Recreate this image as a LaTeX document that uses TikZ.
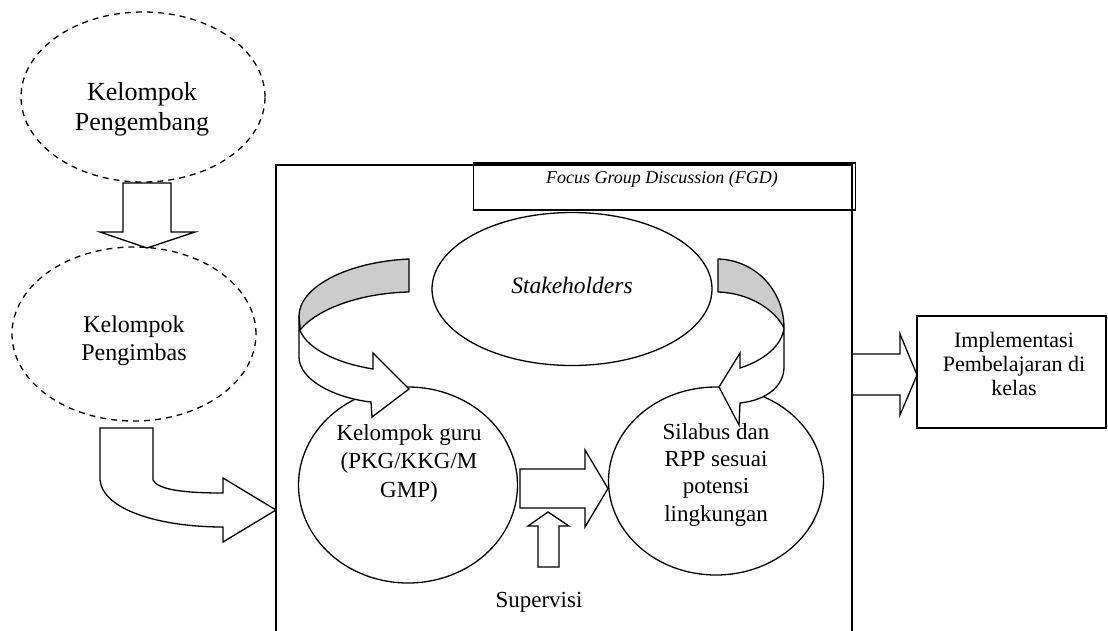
\documentclass[tikz,border=0pt]{standalone}
\usepackage{fontspec}
\setmainfont{Liberation Serif}
\usetikzlibrary{shapes.geometric}
\definecolor{bandgrey}{RGB}{204,204,204}
\begin{document}
\begin{tikzpicture}[x=1pt,y=-1pt,
  ln/.style={line width=1.3pt, line join=miter},
  dashell/.style={ellipse, draw, line width=1.3pt, dash pattern=on 6pt off 5pt, inner sep=0pt},
  solidell/.style={ellipse, draw, fill=white, line width=1.3pt, inner sep=0pt},
  blockarrow/.style={draw, fill=white, line width=1.3pt, line join=miter},
  band/.style={draw, fill=bandgrey, line width=1.3pt, line join=round},
  txt/.style={align=center, inner sep=0pt},
]
\useasboundingbox (0,0) rectangle (1108,630);

% left column ellipses
\node[dashell, minimum width=244pt, minimum height=170pt] (peng) at (143,97) {};
\node[dashell, minimum width=244pt, minimum height=174pt] (imbas) at (134,334) {};
\node[txt, font=\fontsize{26}{30}\selectfont] (tpeng) at (142,109) {Kelompok\\Pengembang};
\node[txt, font=\fontsize{24}{28}\selectfont] (timbas) at (134,340.5) {Kelompok\\Pengimbas};

% down arrow between ellipses
\draw[blockarrow] (123,183) -- (171,183) -- (171,232) -- (195,232) -- (147,248) -- (100,232) -- (123,232) -- cycle;

% main frame
\draw[line width=1.8pt] (276,632) -- (276,165) -- (852,165) -- (852,632);

% FGD box
\node[draw, line width=1.5pt, minimum width=382pt, minimum height=47pt, inner sep=0pt] (fgd) at (664.5,186.5) {};
\node[inner sep=0pt, anchor=base, font=\fontsize{18}{22}\selectfont\itshape] (tfgd) at (662,183) {Focus Group Discussion (FGD)};

% bent arrow into the frame
\draw[blockarrow] (100,428) -- (153,428) -- (153,480) .. controls (158,490) and (185,493) .. (223,493) -- (223,478) -- (276,510) -- (223,542) -- (223,527) .. controls (160,527) and (103,510) .. (100,480) -- cycle;

% stakeholders
\node[solidell, minimum width=280pt, minimum height=153pt] (stake) at (572,289) {};
\node[inner sep=0pt, font=\fontsize{23.5}{28}\selectfont\itshape] (tstake) at (572,285) {Stakeholders};

% circles
\node[solidell, minimum width=219pt, minimum height=196pt] (guru) at (408,485) {};
\node[solidell, minimum width=215pt, minimum height=188pt] (silabus) at (716,481) {};
\node[txt, font=\fontsize{23}{28.5}\selectfont] (tguru) at (409,463) {Kelompok guru\\(PKG/KKG/M\\GMP)};
\node[txt, font=\fontsize{23}{27.3}\selectfont] (tsilabus) at (716,474.8) {Silabus dan\\RPP sesuai\\potensi\\lingkungan};

% left curved arrow
\draw[band] (409,259) .. controls (345,262) and (299,288) .. (299,316) -- (300,330) .. controls (318,308) and (362,293) .. (409,292) -- cycle;
\draw[blockarrow] (299,316) -- (299,357) .. controls (299,380) and (335,398) .. (371,402) -- (372,417) -- (409,389) -- (373,353) -- (373,369) .. controls (330,362) and (305,345) .. (300,330) -- cycle;

% right curved arrow
\draw[band] (718,259) .. controls (755,260) and (784,290) .. (784,328) .. controls (775,310) and (750,293) .. (718,292) -- cycle;
\draw[blockarrow] (784,328) -- (784,367) .. controls (784,385) and (768,400) .. (740,403) -- (739,425) -- (719,387) -- (740,353) -- (740,368) .. controls (765,360) and (782,345) .. (784,328) -- cycle;

% arrow guru -> silabus
\draw[blockarrow] (520,469) -- (585,469) -- (585,450) -- (608,488.5) -- (585,527) -- (585,508) -- (520,508) -- cycle;

% supervisi arrow
\draw[blockarrow] (538,567) -- (538,526) -- (528,526) -- (548,512) -- (569,526) -- (559,526) -- (559,567) -- cycle;
\node[inner sep=0pt, anchor=base, font=\fontsize{23}{28}\selectfont] (tsuper) at (539,607) {Supervisi};

% implementasi
\draw[blockarrow] (852,354) -- (900,354) -- (900,334) -- (917,375) -- (900,415) -- (900,395) -- (852,395);
\draw[line width=1.8pt] (852,340) -- (852,410);
\node[draw, line width=1.5pt, minimum width=189pt, minimum height=112pt, inner sep=0pt] (impl) at (1011.5,372) {};
\node[txt, font=\fontsize{22}{24}\selectfont] (timpl) at (1014,363.6) {Implementasi\\Pembelajaran di\\kelas};
\end{tikzpicture}
\end{document}
